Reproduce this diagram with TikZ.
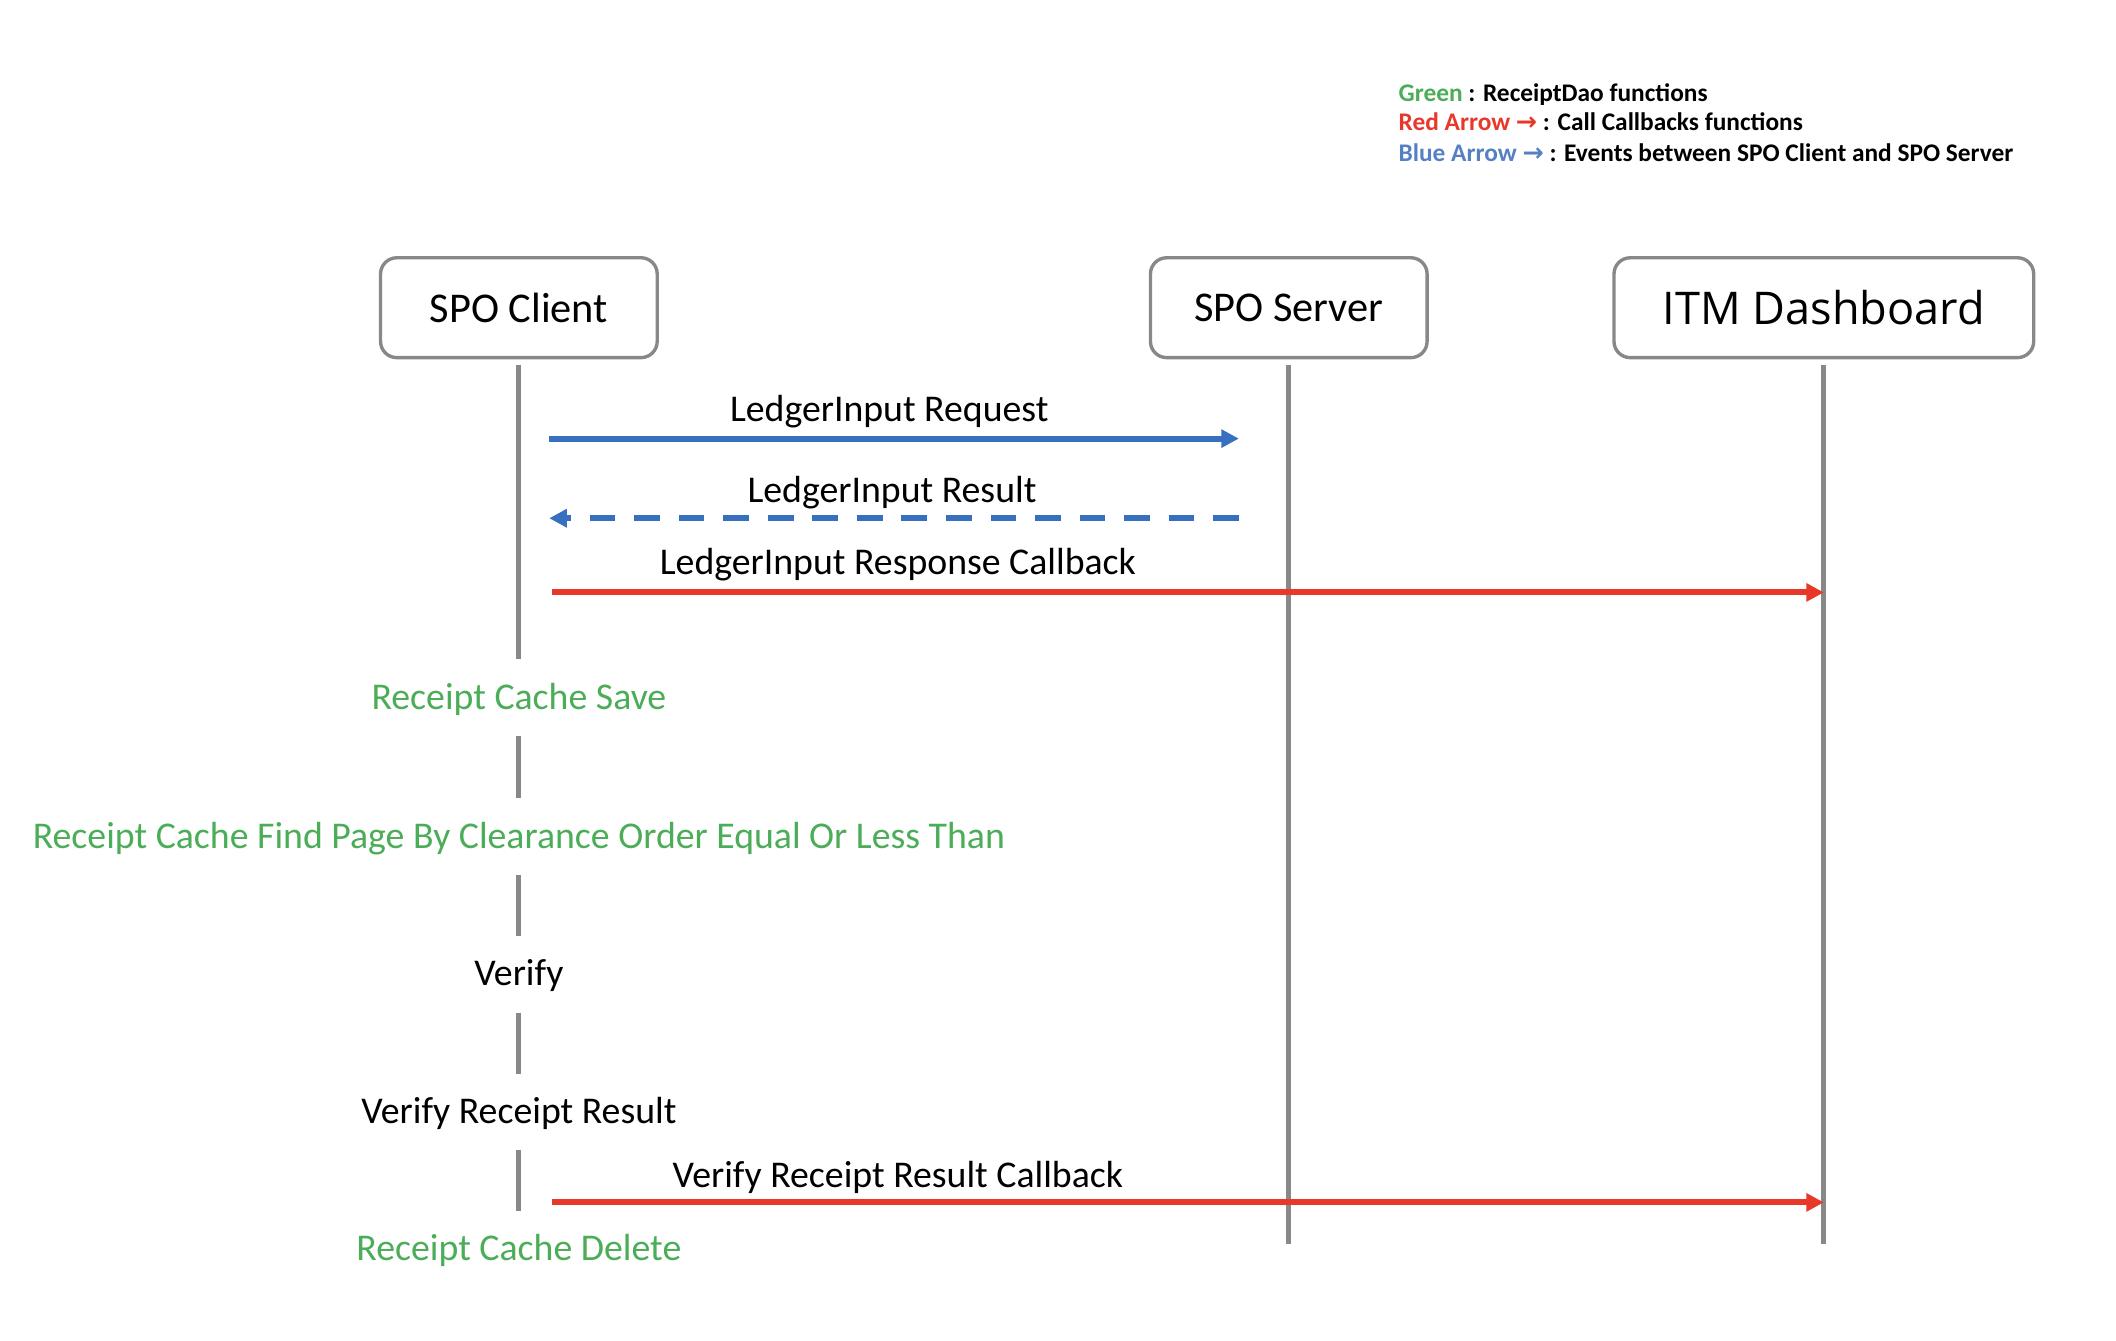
\documentclass[tikz,border=0pt]{standalone}
\usepackage{fontspec}
\setmainfont{Carlito}
\newfontfamily\itmfont{Open Sans}
\newfontfamily\arrowfont{DejaVu Sans}
\usetikzlibrary{positioning, arrows.meta}
\definecolor{linegray}{RGB}{136,136,136}
\definecolor{daogreen}{RGB}{76,173,88}
\definecolor{callred}{RGB}{232,56,42}
\definecolor{eventblue}{RGB}{54,112,190}
\definecolor{keyblue}{RGB}{86,128,196}
\tikzset{
>={Triangle[length=6.5pt,width=6.5pt]}, % filled triangle heads
actor/.style={draw=linegray, line width=1.25pt, rounded corners=6pt, minimum width=102.5pt, minimum height=37pt, font=\fontsize{15.7}{18}\selectfont}, % the three boxes on top
lifeline/.style={draw=linegray, line width=1.9pt}, % grey vertical lines
steplabel/.style={inner sep=0pt, minimum height=28pt, text height=10pt, text depth=1.6pt, font=\fontsize{14}{16}\selectfont}, % texts that break the client line
msg/.style={anchor=base, inner sep=0pt, text=black, font=\fontsize{14}{16}\selectfont}, % texts over the arrows
event/.style={->, eventblue, line width=2.2pt}, % client <-> server
callback/.style={->, callred, line width=2.2pt}, % calls to the dashboard
keyline/.style={anchor=base west, inner sep=0pt, font=\fontsize{9.4}{11}\selectfont\bfseries}, % legend lines
}

\begin{document}
\begin{tikzpicture}[x=0.5pt, y=-0.5pt]
      \useasboundingbox (0,0) rectangle (1568,993);
      \node[keyline] (keygreen) at (1036,75) {\textcolor{daogreen}{Green} : ReceiptDao functions};
      \node[keyline] (keyred) at (1036,97) {\textcolor{callred}{Red Arrow {\arrowfont\bfseries →}} : Call Callbacks functions};
      \node[keyline] (keyblue) at (1036,119.5) {\textcolor{keyblue}{Blue Arrow {\arrowfont\bfseries →}} : Events between SPO Client and SPO Server};

      \node[actor] (client) at (384.5,228) {SPO Client};
      \node[actor, right=181.5pt of client] (server) {SPO Server};
      \node[actor, right=68pt of server, minimum width=155.5pt, font=\itmfont\fontsize{16.7}{20}\selectfont] (itm) {ITM Dashboard};

      \node[steplabel, daogreen] (save) at (client |- 0,517) {Receipt Cache Save};
      \node[steplabel, daogreen] (find) at (client |- 0,620) {Receipt Cache Find Page By Clearance Order Equal Or Less Than};
      \node[steplabel] (verify) at (client |- 0,722) {Verify};
      \node[steplabel] (result) at (client |- 0,824) {Verify Receipt Result};
      \node[steplabel, daogreen] (delete) at (client |- 0,926) {Receipt Cache Delete};

      \coordinate (serverend) at (server |- 0,922);
      \coordinate (itmend) at (itm |- 0,922);
      \draw[lifeline] ([yshift=-2pt]client.south) -- (save.north);
      \foreach \a/\b in {save/find, find/verify, verify/result, result/delete}
        \draw[lifeline] (\a.south) -- (\b.north);
      \draw[lifeline] ([yshift=-2pt]server.south) -- (serverend);
      \draw[lifeline] ([yshift=-2pt]itm.south) -- (itmend);

      \coordinate (reqstart) at (407,325);
      \coordinate (reqend) at (918,325);
      \coordinate (resstart) at (918,384);
      \coordinate (resend) at (407,384);
      \coordinate (cbstart) at (409,439);
      \coordinate (cbend) at (itm |- cbstart);
      \coordinate (vcbstart) at (409,891);
      \coordinate (vcbend) at (itm |- vcbstart);
      \draw[event] (reqstart) -- (reqend) node[msg, pos=0.493, yshift=6.5pt] {LedgerInput Request};
      \draw[event, dash pattern=on 9.5pt off 7pt] (resstart) -- (resend) node[msg, pos=0.503, yshift=6pt] {LedgerInput Result};
      \draw[callback] (cbstart) -- (cbend) node[msg, pos=0.272, yshift=6.5pt] {LedgerInput Response Callback};
      \draw[callback] (vcbstart) -- (vcbend) node[msg, pos=0.272, yshift=5.5pt] {Verify Receipt Result Callback};
    \end{tikzpicture}
\end{document}
